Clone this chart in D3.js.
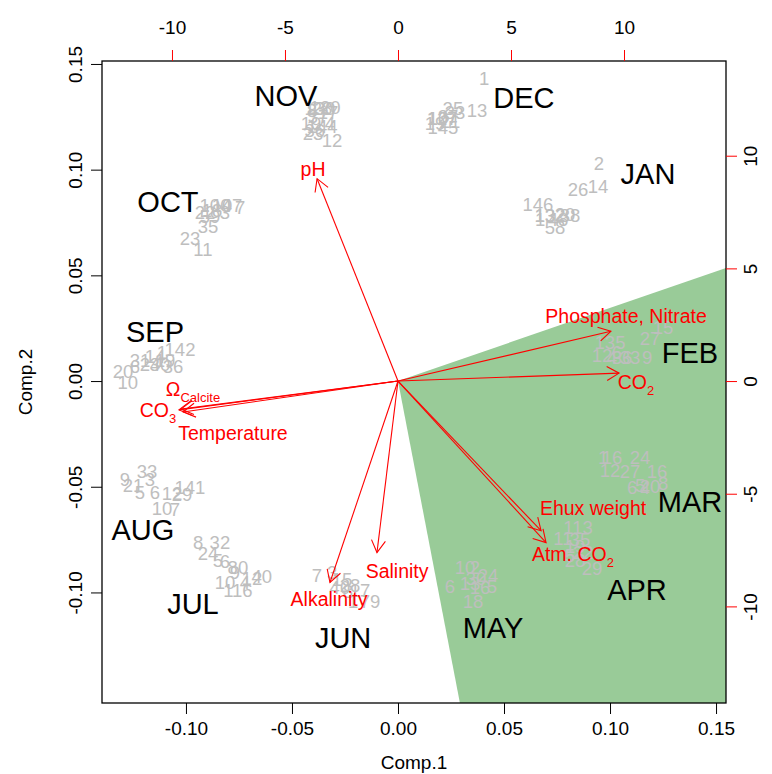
<!DOCTYPE html>
<html>
<head>
<meta charset="utf-8">
<script src="https://cdn.jsdelivr.net/npm/d3@7.9.0/dist/d3.min.js"></script>
<style>
  body { margin: 0; background: #fff; }
  text { font-family: "Liberation Sans", Arial, sans-serif; }
</style>
</head>
<body>
<div id="biplot"></div>
<script>
// observation labels (scores, Comp.1 / Comp.2)
const obsLabels = ["12","23","19","28","120","4","37","130","8","144","36","17",
  "1","13","145","25","127","19","33","37","10","21",
  "2","14","26","146","58","13","132","20","38","48","1",
  "11","23","35","100","47","22","59","10","7","18","3",
  "142","20","10","31","14","36","1","24","30","6","19",
  "33","9","21","5","141","10","7","29","12","3","6",
  "8","32","24","5","6","80","9","40","10","4","116","12",
  "7","3","15","28","40","1","79","17","8",
  "10","24","6","18","5","2","13","16","30",
  "113","11","29","19","35","5","22","28",
  "1","16","24","16","8","12","27","6","5","4","20",
  "15","27","135","9","12","4","36","33","6"];
const obsX = [-0.0311,-0.0401,-0.0410,-0.0358,-0.0344,-0.0321,-0.0377,-0.0368,-0.0406,-0.0358,-0.0392,-0.0330,
  0.0406,0.0373,0.0212,0.0259,0.0208,0.0175,0.0269,0.0236,0.0189,0.0245,
  0.0948,0.0943,0.0849,0.0660,0.0741,0.0693,0.0717,0.0788,0.0811,0.0755,0.0670,
  -0.0920,-0.0981,-0.0896,-0.0863,-0.0783,-0.0910,-0.0887,-0.0830,-0.0745,-0.0877,-0.0816,
  -0.1028,-0.1297,-0.1274,-0.1217,-0.1146,-0.1061,-0.1113,-0.1170,-0.1123,-0.1241,-0.1099,
  -0.1184,-0.1288,-0.1250,-0.1217,-0.0981,-0.1113,-0.1052,-0.1019,-0.1066,-0.1170,-0.1146,
  -0.0943,-0.0840,-0.0896,-0.0849,-0.0816,-0.0755,-0.0769,-0.0642,-0.0816,-0.0722,-0.0755,-0.0689,
  -0.0382,-0.0311,-0.0264,-0.0226,-0.0274,-0.0212,-0.0132,-0.0179,-0.0236,
  0.0316,0.0425,0.0245,0.0354,0.0443,0.0363,0.0340,0.0387,0.0368,
  0.0849,0.0778,0.0915,0.0835,0.0858,0.0811,0.0873,0.0835,
  0.0967,0.1009,0.1142,0.1222,0.1250,0.1000,0.1094,0.1104,0.1142,0.1165,0.1189,
  0.1250,0.1189,0.1000,0.1175,0.0962,0.1009,0.1057,0.1094,0.1033];
const obsY = [0.1140,0.1173,0.1216,0.1291,0.1296,0.1216,0.1249,0.1291,0.1282,0.1202,0.1187,0.1268,
  0.1433,0.1282,0.1197,0.1291,0.1244,0.1216,0.1268,0.1249,0.1244,0.1230,
  0.1031,0.0922,0.0904,0.0833,0.0728,0.0785,0.0781,0.0790,0.0785,0.0766,0.0762,
  0.0624,0.0676,0.0733,0.0828,0.0828,0.0799,0.0776,0.0828,0.0823,0.0809,0.0799,
  0.0147,0.0043,-0.0005,0.0099,0.0118,0.0071,0.0137,0.0080,0.0080,0.0071,0.0099,
  -0.0430,-0.0468,-0.0492,-0.0525,-0.0506,-0.0601,-0.0610,-0.0539,-0.0530,-0.0468,-0.0525,
  -0.0766,-0.0766,-0.0814,-0.0847,-0.0856,-0.0880,-0.0904,-0.0927,-0.0951,-0.0951,-0.0989,-0.0932,
  -0.0918,-0.0904,-0.0941,-0.0965,-0.0979,-0.1045,-0.1045,-0.0989,-0.0998,
  -0.0880,-0.0918,-0.0974,-0.1045,-0.0974,-0.0880,-0.0956,-0.0979,-0.0932,
  -0.0695,-0.0743,-0.0885,-0.0785,-0.0752,-0.0823,-0.0809,-0.0847,
  -0.0364,-0.0364,-0.0364,-0.0430,-0.0483,-0.0421,-0.0430,-0.0506,-0.0492,-0.0506,-0.0501,
  0.0251,0.0203,0.0180,0.0109,0.0123,0.0109,0.0109,0.0109,0.0137];

// month names
const months = ["NOV","DEC","JAN","OCT","SEP","FEB","MAR","AUG","APR","JUL","JUN","MAY"];
const monthX = [-0.0528,0.0594,0.1179,-0.1085,-0.1146,0.1377,0.1377,-0.1203,0.1127,-0.0967,-0.0259,0.0448];
const monthY = [0.1348,0.1339,0.0979,0.0847,0.0232,0.0132,-0.0572,-0.0705,-0.0989,-0.1055,-0.1216,-0.1168];

// loadings (secondary axes), arrow tips and label spots
const varNames = ["pH","Phosphate, Nitrate","CO","Ehux weight","Atm. CO","Salinity","Alkalinity","Ω","CO","Temperature"];
const varSubs  = ["","","2","","2","","","Calcite","3",""];
const tipX = [-3.58, 9.42, 9.78, 6.33, 6.55, -0.93, -3.01, -9.60, -9.69, -9.51];
const tipY = [ 8.98, 2.21, 0.35, -6.64, -7.17, -7.61, -8.94, -1.24, -1.28, -1.37];
const labX = [-3.76, 10.09, 10.53, 8.63, 7.74, -0.04, -3.05, -9.07, -10.62, -7.30];
const labY = [ 9.42, 2.88, -0.04, -5.66, -7.70, -8.45, -9.69, -0.35, -1.28, -2.30];

// shaded sector
const polyX = [0, 0.1547, 0.1547, 0.0292];
const polyY = [0, 0.0535, -0.1523, -0.1523];

const xTicks = [-0.10,-0.05,0.00,0.05,0.10,0.15];
const yTicks = [-0.10,-0.05,0.00,0.05,0.10,0.15];
const x2Ticks = [-10,-5,0,5,10];
const y2Ticks = [-10,-5,0,5,10];

const W = 772, H = 774;
const margin = {top: 61, right: 46, bottom: 71, left: 102};
const ratio = 0.01066;

const svg = d3.select("#biplot").append("svg")
    .attr("width", W).attr("height", H);

const x = d3.scaleLinear().domain([-0.1396, 0.1547]).range([margin.left, W - margin.right]);
const y = d3.scaleLinear().domain([-0.1523, 0.1514]).range([H - margin.bottom, margin.top]);
const x2 = d3.scaleLinear().domain(x.domain().map(d => d / ratio)).range(x.range());
const y2 = d3.scaleLinear().domain(y.domain().map(d => d / ratio)).range(y.range());

// green sector
svg.append("path")
    .attr("d", d3.line()(polyX.map((d, i) => [x(d), y(polyY[i])])) + "Z")
    .attr("fill", "#99cb98");

// observations
svg.append("g").selectAll("text")
    .data(obsLabels)
    .enter().append("text")
    .attr("x", (d, i) => x(obsX[i]))
    .attr("y", (d, i) => y(obsY[i]))
    .attr("dy", "0.35em")
    .attr("text-anchor", "middle")
    .attr("font-size", 18.5)
    .attr("fill", "#bebebe")
    .text(d => d);

// months
svg.append("g").selectAll("text")
    .data(months)
    .enter().append("text")
    .attr("x", (d, i) => x(monthX[i]))
    .attr("y", (d, i) => y(monthY[i]))
    .attr("dy", "0.35em")
    .attr("text-anchor", "middle")
    .attr("font-size", 29)
    .attr("fill", "#000")
    .text(d => d);

// arrows
const arrows = svg.append("g").attr("stroke", "red").attr("stroke-width", 1.1).attr("fill", "none");
varNames.forEach((n, i) => {
  const x0 = x2(0), y0 = y2(0), x1 = x2(tipX[i]), y1 = y2(tipY[i]);
  const a = Math.atan2(y1 - y0, x1 - x0), len = 14, sp = Math.PI / 6;
  arrows.append("line").attr("x1", x0).attr("y1", y0).attr("x2", x1).attr("y2", y1);
  arrows.append("path").attr("d",
    "M" + (x1 - len * Math.cos(a - sp)) + "," + (y1 - len * Math.sin(a - sp)) +
    "L" + x1 + "," + y1 +
    "L" + (x1 - len * Math.cos(a + sp)) + "," + (y1 - len * Math.sin(a + sp)));
});

// variable labels
const labs = svg.append("g").selectAll("text")
    .data(varNames)
    .enter().append("text")
    .attr("x", (d, i) => x2(labX[i]))
    .attr("y", (d, i) => y2(labY[i]))
    .attr("dy", "0.35em")
    .attr("text-anchor", "middle")
    .attr("font-size", 19.5)
    .attr("fill", "red");
labs.append("tspan").text(d => d);
labs.append("tspan")
    .attr("font-size", 13)
    .attr("dy", 6)
    .text((d, i) => varSubs[i]);

// box
svg.append("rect")
    .attr("x", margin.left).attr("y", margin.top)
    .attr("width", W - margin.left - margin.right)
    .attr("height", H - margin.top - margin.bottom)
    .attr("fill", "none").attr("stroke", "#000").attr("stroke-width", 1.3);

const fmt = d => d.toFixed(2);

const gB = svg.append("g").attr("transform", "translate(0," + (H - margin.bottom) + ")")
    .call(d3.axisBottom(x).tickValues(xTicks).tickFormat(fmt).tickSize(11).tickPadding(8));
const gL = svg.append("g").attr("transform", "translate(" + margin.left + ",0)")
    .call(d3.axisLeft(y).tickValues(yTicks).tickFormat(fmt).tickSize(11));
const gT = svg.append("g").attr("transform", "translate(0," + margin.top + ")")
    .call(d3.axisTop(x2).tickValues(x2Ticks).tickFormat(d => String(d)).tickSize(11).tickPadding(16));
const gR = svg.append("g").attr("transform", "translate(" + (W - margin.right) + ",0)")
    .call(d3.axisRight(y2).tickValues(y2Ticks).tickFormat(d => String(d)).tickSize(11));

[gB, gL, gT, gR].forEach(g => {
  g.select(".domain").remove();
  g.selectAll(".tick text").attr("font-size", 19).attr("fill", "#000")
    .style("font-family", "'Liberation Sans', Arial, sans-serif");
});
gB.selectAll(".tick line").attr("stroke", "#000");
gL.selectAll(".tick line").attr("stroke", "#000");
gT.selectAll(".tick line").attr("stroke", "red");
gR.selectAll(".tick line").attr("stroke", "red");

gL.selectAll(".tick text")
    .attr("transform", "rotate(-90)")
    .attr("x", 0).attr("y", -27).attr("dy", "0.35em")
    .style("text-anchor", "middle");
gR.selectAll(".tick text")
    .attr("transform", "rotate(-90)")
    .attr("x", 0).attr("y", 24).attr("dy", "0.35em")
    .style("text-anchor", "middle");

// axis titles
svg.append("text")
    .attr("x", (margin.left + W - margin.right) / 2).attr("y", 762)
    .attr("dy", "0.35em").attr("text-anchor", "middle").attr("font-size", 19)
    .text("Comp.1");
svg.append("text")
    .attr("transform", "translate(25," + ((margin.top + H - margin.bottom) / 2) + ") rotate(-90)")
    .attr("dy", "0.35em").attr("text-anchor", "middle").attr("font-size", 19)
    .text("Comp.2");
</script>
</body>
</html>
